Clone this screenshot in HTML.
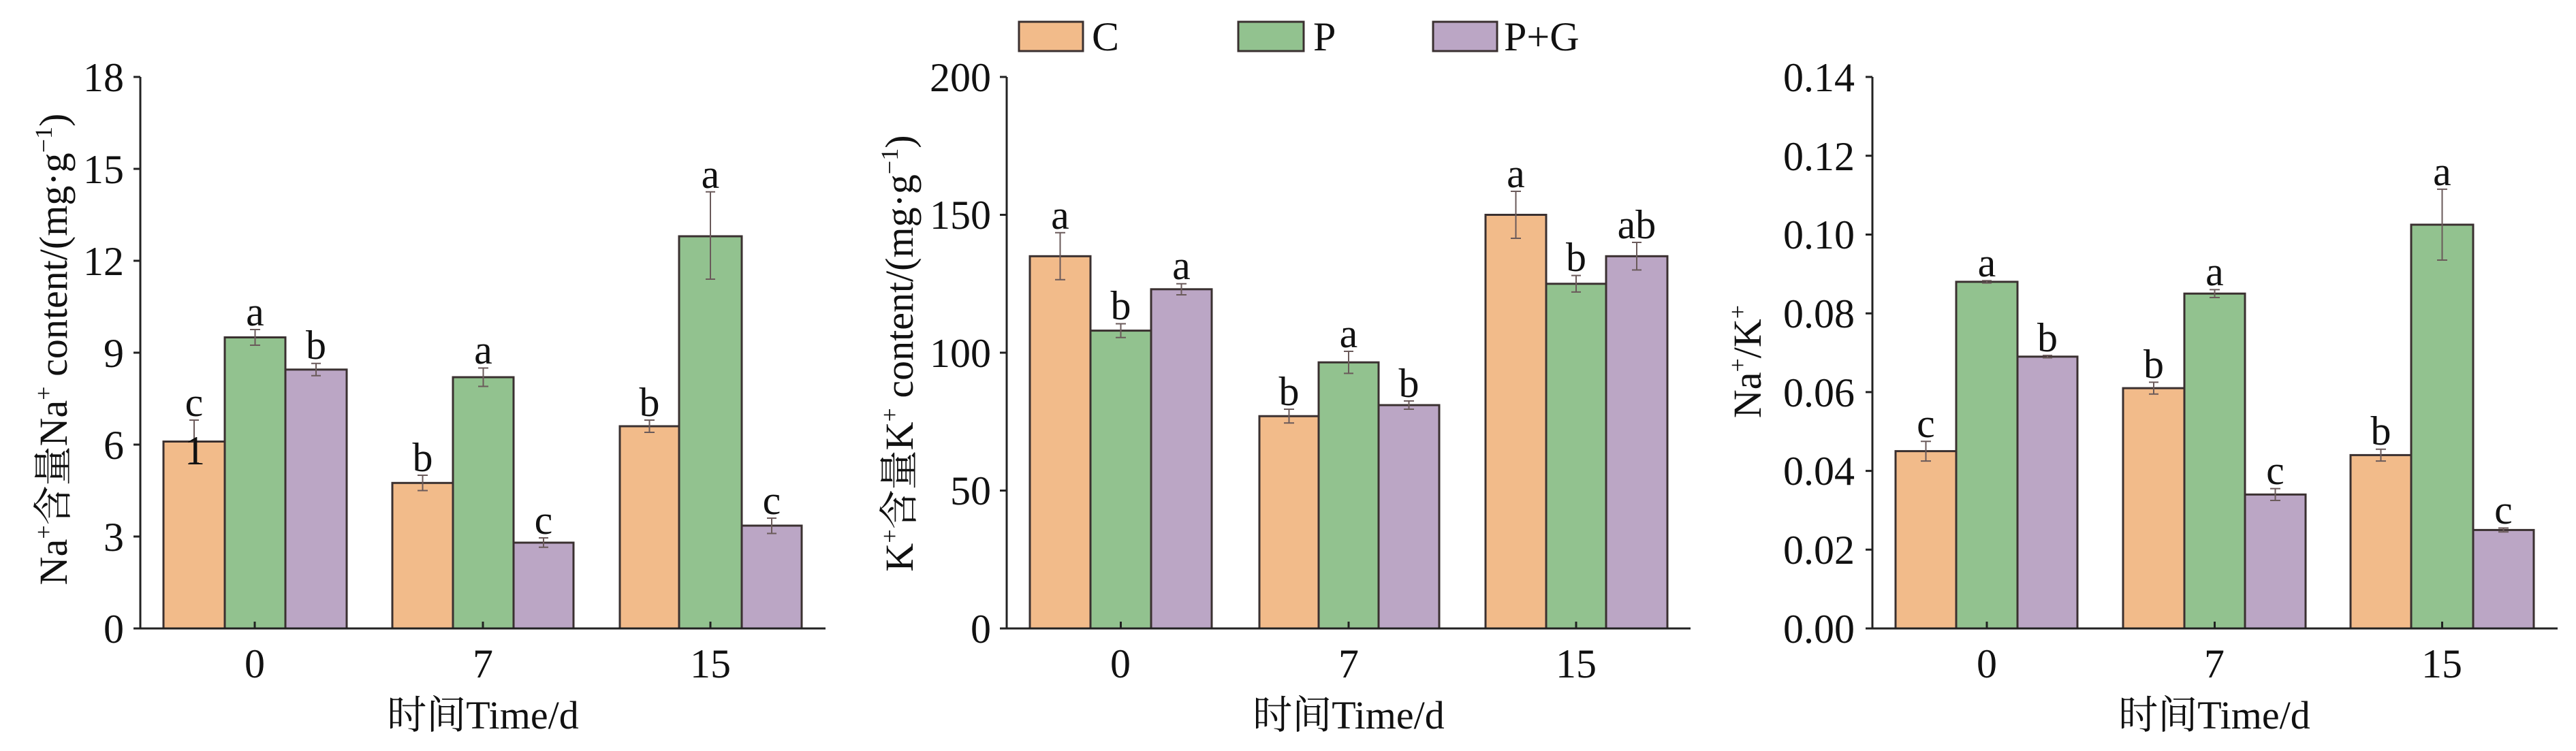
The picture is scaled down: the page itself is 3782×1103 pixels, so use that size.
<!DOCTYPE html>
<html><head><meta charset="utf-8"><style>html,body{margin:0;padding:0;background:#fff}svg{display:block}</style></head>
<body>
<svg width="3782" height="1103" viewBox="0 0 3782 1103" xmlns="http://www.w3.org/2000/svg" font-family="'Liberation Serif','Noto Serif CJK SC',serif" fill="#111">
<g stroke="#3a3030" stroke-width="3">
<!-- chart1 bars -->
<rect x="240" y="648.5" width="90" height="274.5" fill="#f2bb8a"/>
<rect x="330" y="495.5" width="89" height="427.5" fill="#92c28f"/>
<rect x="419" y="542.8" width="90" height="380.2" fill="#bba6c5"/>
<rect x="576" y="709.3" width="89" height="213.7" fill="#f2bb8a"/>
<rect x="665" y="554" width="89" height="369" fill="#92c28f"/>
<rect x="754" y="797" width="88" height="126" fill="#bba6c5"/>
<rect x="910" y="626" width="87" height="297" fill="#f2bb8a"/>
<rect x="997" y="347" width="92" height="576" fill="#92c28f"/>
<rect x="1089" y="772" width="88" height="151" fill="#bba6c5"/>
<!-- chart2 -->
<rect x="1512" y="376.3" width="89" height="546.7" fill="#f2bb8a"/>
<rect x="1601" y="485.6" width="89" height="437.4" fill="#92c28f"/>
<rect x="1690" y="424.8" width="89" height="498.2" fill="#bba6c5"/>
<rect x="1849" y="611.2" width="87" height="311.8" fill="#f2bb8a"/>
<rect x="1936" y="532.2" width="88" height="390.8" fill="#92c28f"/>
<rect x="2024" y="595" width="89" height="328" fill="#bba6c5"/>
<rect x="2181" y="315.5" width="89" height="607.5" fill="#f2bb8a"/>
<rect x="2270" y="416.8" width="88" height="506.2" fill="#92c28f"/>
<rect x="2358" y="376.3" width="90" height="546.7" fill="#bba6c5"/>
<!-- chart3 -->
<rect x="2783" y="662.6" width="89" height="260.4" fill="#f2bb8a"/>
<rect x="2872" y="413.9" width="90" height="509.1" fill="#92c28f"/>
<rect x="2962" y="523.8" width="88" height="399.2" fill="#bba6c5"/>
<rect x="3117" y="570.1" width="90" height="352.9" fill="#f2bb8a"/>
<rect x="3207" y="431.2" width="89" height="491.8" fill="#92c28f"/>
<rect x="3296" y="726.3" width="89" height="196.7" fill="#bba6c5"/>
<rect x="3451" y="668.4" width="89" height="254.6" fill="#f2bb8a"/>
<rect x="3540" y="330" width="91" height="593" fill="#92c28f"/>
<rect x="3631" y="778.4" width="89" height="144.6" fill="#bba6c5"/>
<!-- legend -->
<rect x="1496" y="32" width="94" height="43" fill="#f2bb8a"/>
<rect x="1818" y="32" width="96" height="43" fill="#92c28f"/>
<rect x="2104" y="32" width="94" height="43" fill="#bba6c5"/>
</g>
<!-- error bars -->
<g stroke="#6a5a5a" stroke-width="2" fill="none">
<path d="M285 617V680M278 617h14M278 680h14 M374.5 484V507M367 484h15M367 507h15 M464 533.8V551.8M457 533.8h14M457 551.8h14 M620.5 698V720.5M613 698h15M613 720.5h15 M709.5 540.5V567.5M702 540.5h15M702 567.5h15 M798 790V803.8M791 790h14M791 803.8h14 M953.5 617V635M946 617h15M946 635h15 M1043 281.8V410M1036 281.8h14M1036 410h14 M1133 761V783.5M1126 761h14M1126 783.5h14"/>
<path d="M1556.5 341.8V410.7M1549 341.8h15M1549 410.7h15 M1645.5 475.5V495.7M1638 475.5h15M1638 495.7h15 M1734.5 416.8V433M1727 416.8h15M1727 433h15 M1892.5 601V621.3M1885 601h15M1885 621.3h15 M1980 516V548.4M1973 516h14M1973 548.4h14 M2068.5 588.9V601M2061 588.9h15M2061 601h15 M2225.5 281V350M2218 281h15M2218 350h15 M2314 404.6V428.9M2307 404.6h14M2307 428.9h14 M2403 356V396.5M2396 356h14M2396 396.5h14"/>
<path d="M2827.5 648.2V677.1M2820 648.2h15M2820 677.1h15 M2917 412.2V415.6M2910 412.2h14M2910 415.6h14 M3006 522V525.5M2999 522h14M2999 525.5h14 M3162 561.4V578.8M3155 561.4h14M3155 578.8h14 M3251.5 425.4V437M3244 425.4h15M3244 437h15 M3340.5 717.6V735M3333 717.6h15M3333 735h15 M3495.5 659.8V677.1M3488 659.8h15M3488 677.1h15 M3585.5 277.9V382M3578 277.9h15M3578 382h15 M3675.5 775.5V781.3M3668 775.5h15M3668 781.3h15"/>
</g>
<!-- axes -->
<g stroke="#222" stroke-width="3" fill="none">
<path d="M206 113V923H1212 M196 113h10M196 248h10M196 383h10M196 518h10M196 653h10M196 788h10M196 923h10 M374 923v-10M709 923v-10M1043 923v-10"/>
<path d="M1478 113V923H2482 M1468 113h10M1468 315.5h10M1468 518h10M1468 720.5h10M1468 923h10 M1645.5 923v-10M1980 923v-10M2314 923v-10"/>
<path d="M2749 113V923H3755 M2739 113h10M2739 228.8h10M2739 344.5h10M2739 460.2h10M2739 575.9h10M2739 691.6h10M2739 807.3h10M2739 923h10 M2917 923v-10M3251.5 923v-10M3585.5 923v-10"/>
</g>
<g font-size="60">
<!-- tick labels -->
<g text-anchor="end">
<text x="182" y="134">18</text><text x="182" y="269">15</text><text x="182" y="404">12</text><text x="182" y="539">9</text><text x="182" y="674">6</text><text x="182" y="809">3</text><text x="182" y="944">0</text>
<text x="1455" y="134">200</text><text x="1455" y="336">150</text><text x="1455" y="539">100</text><text x="1455" y="741">50</text><text x="1455" y="944">0</text>
<text x="2723" y="134">0.14</text><text x="2723" y="250">0.12</text><text x="2723" y="365">0.10</text><text x="2723" y="481">0.08</text><text x="2723" y="597">0.06</text><text x="2723" y="712">0.04</text><text x="2723" y="828">0.02</text><text x="2723" y="944">0.00</text>
</g>
<g text-anchor="middle">
<text x="374" y="995">0</text><text x="709" y="995">7</text><text x="1043" y="995">15</text>
<text x="1645" y="995">0</text><text x="1980" y="995">7</text><text x="2314" y="995">15</text>
<text x="2917" y="995">0</text><text x="3251" y="995">7</text><text x="3585" y="995">15</text>
<text x="709" y="1070" font-size="58">时间Time/d</text>
<text x="1980" y="1070" font-size="58">时间Time/d</text>
<text x="3251" y="1070" font-size="58">时间Time/d</text>
<!-- letters -->
<text x="285" y="611">c</text><text x="286" y="682">1</text><text x="374.5" y="478">a</text><text x="464" y="527">b</text>
<text x="620.5" y="692">b</text><text x="709.5" y="534">a</text><text x="798" y="784">c</text>
<text x="953.5" y="611">b</text><text x="1043" y="276">a</text><text x="1133" y="755">c</text>
<text x="1556.5" y="336">a</text><text x="1645.5" y="469">b</text><text x="1734.5" y="410">a</text>
<text x="1892.5" y="595">b</text><text x="1980" y="510">a</text><text x="2068.5" y="583">b</text>
<text x="2225.5" y="275">a</text><text x="2314" y="398">b</text><text x="2403" y="350">ab</text>
<text x="2827.5" y="642">c</text><text x="2917" y="406">a</text><text x="3006" y="516">b</text>
<text x="3162" y="555">b</text><text x="3251.5" y="419">a</text><text x="3340.5" y="711">c</text>
<text x="3495.5" y="653">b</text><text x="3585.5" y="272">a</text><text x="3675.5" y="769">c</text>
</g>
<!-- legend text -->
<text x="1603" y="74">C</text><text x="1928" y="74">P</text><text x="2208" y="74">P+G</text>
<!-- y labels -->
<text transform="translate(98,513) rotate(-90)" text-anchor="middle" font-size="58">Na<tspan dy="-22" font-size="36">+</tspan><tspan dy="22">含量Na</tspan><tspan dy="-22" font-size="36">+</tspan><tspan dy="22"> content/(mg·g</tspan><tspan dy="-22" font-size="36">−1</tspan><tspan dy="22">)</tspan></text>
<text transform="translate(1340,519) rotate(-90)" text-anchor="middle" font-size="58">K<tspan dy="-22" font-size="36">+</tspan><tspan dy="22">含量K</tspan><tspan dy="-22" font-size="36">+</tspan><tspan dy="22"> content/(mg·g</tspan><tspan dy="-22" font-size="36">−1</tspan><tspan dy="22">)</tspan></text>
<text transform="translate(2585,531) rotate(-90)" text-anchor="middle" font-size="58">Na<tspan dy="-22" font-size="36">+</tspan><tspan dy="22">/K</tspan><tspan dy="-22" font-size="36">+</tspan></text>
</g>
</svg>
</body></html>
